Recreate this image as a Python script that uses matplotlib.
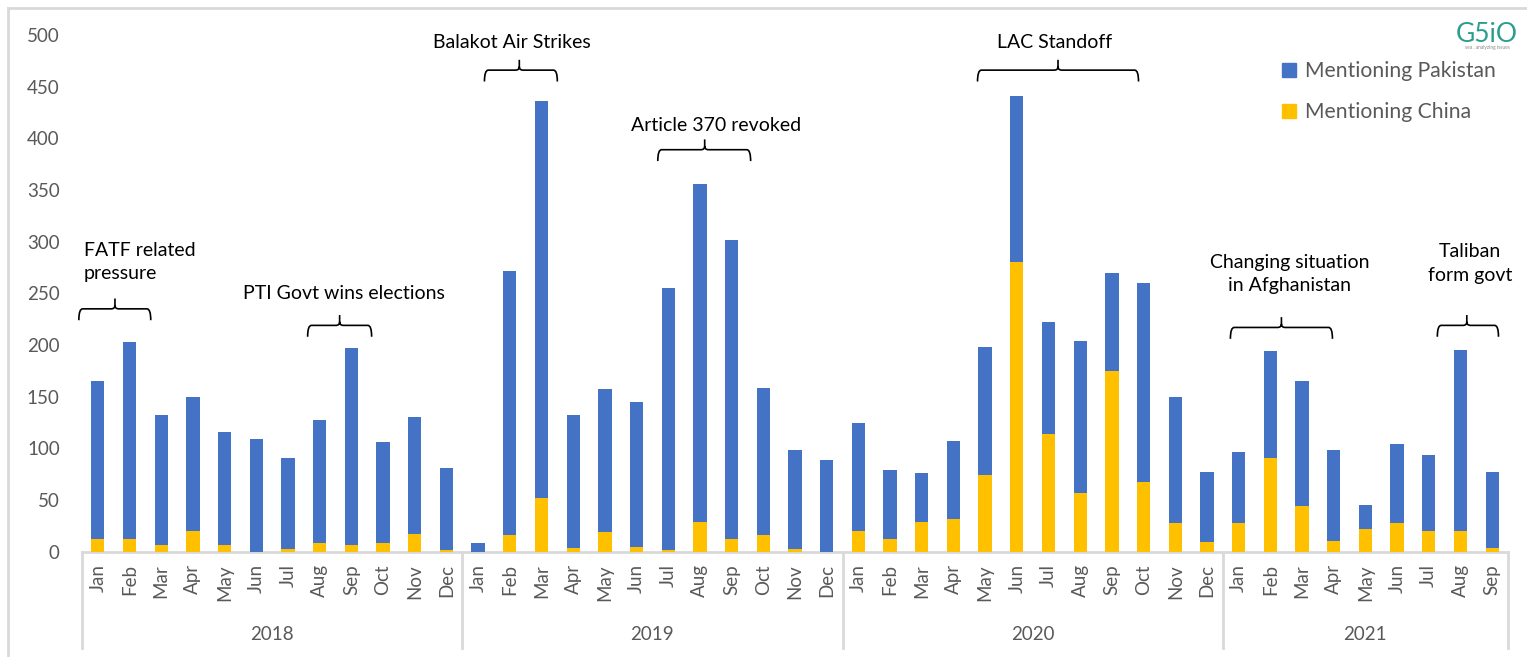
import matplotlib
matplotlib.use("Agg")
import matplotlib.pyplot as plt
from matplotlib.patches import Patch, PathPatch
from matplotlib.path import Path
from matplotlib.transforms import blended_transform_factory

plt.rcParams["font.family"] = ["Lato", "DejaVu Sans"]

MONTHS = ["Jan", "Feb", "Mar", "Apr", "May", "Jun",
          "Jul", "Aug", "Sep", "Oct", "Nov", "Dec"]
years = ["2018", "2019", "2020", "2021"]
months_per_year = [12, 12, 12, 9]
month_labels = MONTHS * 3 + MONTHS[:9]

pakistan = [165, 203, 132, 150, 116, 109, 91, 127, 197, 106, 130, 81,
            8, 272, 436, 132, 157, 145, 255, 356, 302, 158, 98, 89,
            125, 79, 76, 107, 198, 441, 222, 204, 270, 260, 150, 77,
            96, 194, 165, 98, 45, 104, 94, 195, 77]
china = [12, 12, 6, 20, 6, 0, 3, 8, 6, 8, 17, 2,
         0, 16, 52, 4, 19, 5, 2, 29, 12, 16, 3, 0,
         20, 12, 29, 32, 74, 280, 114, 57, 175, 67, 28, 9,
         28, 91, 44, 10, 22, 28, 20, 20, 4]

event_labels = ["FATF related\npressure", "PTI Govt wins elections",
                "Balakot Air Strikes", "Article 370 revoked", "LAC Standoff",
                "Changing situation\nin Afghanistan", "Taliban\nform govt"]

BLUE = "#4472C4"
YELLOW = "#FFC000"
GREY = "#595959"
LIGHT = "#d9d9d9"

W, H = 1527, 657
fig = plt.figure(figsize=(W / 100, H / 100), dpi=100)
ax = fig.add_axes([82 / W, 1 - 551.7 / H, (1508 - 82) / W, (551.7 - 35) / H])

x = list(range(len(pakistan)))
ax.bar(x, pakistan, width=0.42, color=BLUE, zorder=2)
ax.bar(x, china, width=0.42, color=YELLOW, zorder=3)

ax.set_xlim(-0.5, len(pakistan) - 0.5)
ax.set_ylim(0, 500)
for s in ax.spines.values():
    s.set_visible(False)
ax.axhline(0, color=LIGHT, lw=2, zorder=1, clip_on=False)

ax.set_yticks(range(0, 501, 50))
ax.tick_params(axis="y", length=0, pad=16, labelsize=13.5, labelcolor=GREY)
ax.set_xticks(x)
ax.set_xticklabels(month_labels, rotation=90)
ax.tick_params(axis="x", length=0, pad=9, labelsize=13.5, labelcolor=GREY)

# year grouping under the month labels
trans = blended_transform_factory(ax.transData, ax.transAxes)
start = 0
bounds = [-0.5]
for yr, n in zip(years, months_per_year):
    ax.text(start + (n - 1) / 2, -0.161, yr, transform=trans, ha="center",
            va="center", fontsize=13.5, color=GREY)
    start += n
    bounds.append(start - 0.5)
for b in bounds:
    ax.plot([b, b], [0, -0.186], transform=trans, color=LIGHT, lw=2,
            clip_on=False)


def brace(ax, x0, x1, xm, y, end_drop=11, mid_rise=10):
    dx, dy = 0.12, 3.5
    verts = [
        (x0, y - end_drop), (x0, y), (x0 + dx, y),
        (xm - dx, y), (xm, y), (xm, y + dy),
        (xm, y + mid_rise),
        (xm, y + dy), (xm, y), (xm + dx, y),
        (x1 - dx, y), (x1, y), (x1, y - end_drop),
    ]
    codes = [Path.MOVETO, Path.CURVE3, Path.CURVE3,
             Path.LINETO, Path.CURVE3, Path.CURVE3,
             Path.LINETO,
             Path.MOVETO, Path.CURVE3, Path.CURVE3,
             Path.LINETO, Path.CURVE3, Path.CURVE3]
    ax.add_patch(PathPatch(Path(verts, codes), fc="none", ec="black",
                           lw=1.2, clip_on=False, zorder=4))


# bracket extents / text anchors (category units)
brace_x0 = [-0.6, 6.62, 12.2, 17.67, 27.76, 35.74, 42.27]
brace_x1 = [1.67, 8.64, 14.5, 20.6, 32.84, 38.96, 44.2]
brace_xm = [0.54, 7.63, 13.3, 19.15, 30.3, 37.35, 43.2]
brace_y = [235, 219, 466, 389, 466, 217, 219]
text_x = [-0.44, 7.76, 13.06, 19.5, 30.2, 37.6, 43.3]
text_y = [280, 250, 493, 412, 493, 269, 279]

for i, label in enumerate(event_labels):
    brace(ax, brace_x0[i], brace_x1[i], brace_xm[i], brace_y[i])
    ha = "left" if i == 0 else "center"
    ax.text(text_x[i], text_y[i], label, ha=ha, va="center", fontsize=14,
            linespacing=1.45, multialignment=ha)

handles = [Patch(color=BLUE, label="Mentioning Pakistan"),
           Patch(color=YELLOW, label="Mentioning China")]
leg = fig.legend(handles=handles, loc="upper left",
                 bbox_to_anchor=(1263 / W, 1 - 42 / H), frameon=False,
                 fontsize=15.2, labelspacing=1.0, handlelength=0.65,
                 handleheight=0.65, handletextpad=0.45)
for t in leg.get_texts():
    t.set_color(GREY)

fig.text(1487 / W, 1 - 34 / H, "G5iO", color="#2a9d8f", fontsize=19,
         ha="center", va="center")
fig.text(1487 / W, 1 - 48 / H, "sea . analyzing issues", color="#8a8a8a",
         fontsize=3.5, ha="center", va="center")

# light frame on the top and left edges
fig.add_artist(plt.Line2D([8 / W, 8 / W], [0, 1 - 8 / H], color=LIGHT, lw=2))
fig.add_artist(plt.Line2D([8 / W, 1], [1 - 8 / H, 1 - 8 / H], color=LIGHT, lw=2))

fig.savefig("out.png", dpi=100)
